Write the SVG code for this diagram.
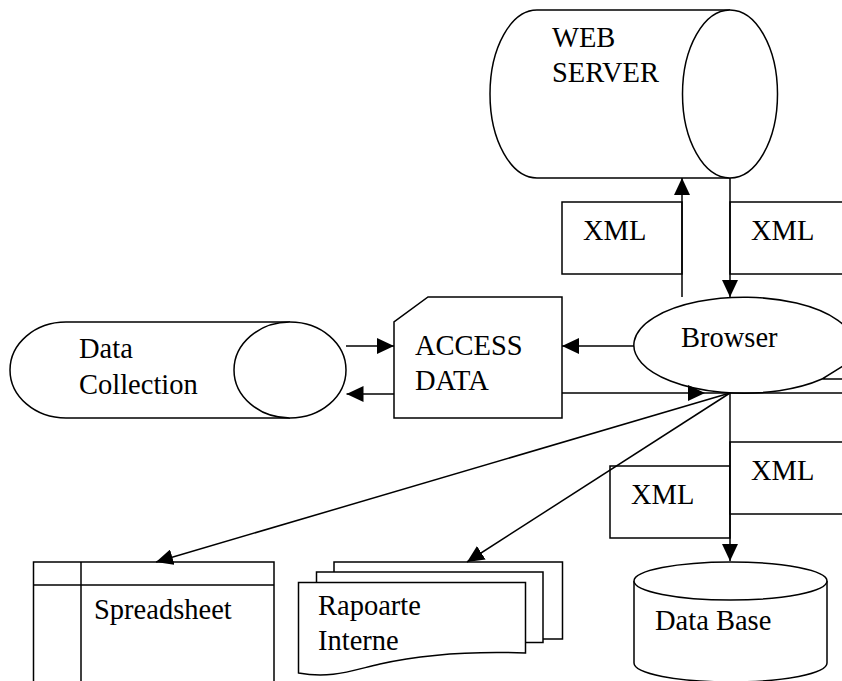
<svg xmlns="http://www.w3.org/2000/svg" width="842" height="681" viewBox="0 0 842 681">
<style>
.s{fill:#fff;stroke:#000;stroke-width:1.5}
.n{fill:none;stroke:#000;stroke-width:1.5}
.t{font-size:28.5px;fill:#000}
.c{fill:none;stroke:#000;stroke-width:1.5;marker-end:url(#ah)}
</style>
<defs>
<marker id="ah" markerUnits="userSpaceOnUse" markerWidth="17" markerHeight="16" refX="17" refY="8" orient="auto">
<path d="M0,0 L17,8 L0,16 Z" fill="#000"/>
</marker>
</defs>
<rect width="842" height="681" fill="#fff"/>
<g font-family="'Liberation Serif', 'Times New Roman', Tinos, 'DejaVu Serif', serif">
<g id="web-server">
<path class="s" d="M730,10 L537,10 A47,84 0 0 0 537,178 L730,178"/>
<ellipse class="s" cx="730" cy="94" rx="47.5" ry="84"/>
<text class="t" x="552" y="47">WEB</text>
<text class="t" x="552" y="82">SERVER</text>
</g>

<g id="xml-1">
<rect class="s" x="562" y="202" width="120" height="72"/>
<text class="t" x="583" y="240">XML</text>
</g>
<g id="xml-2">
<rect class="s" x="730" y="202" width="130" height="72"/>
<text class="t" x="751" y="240">XML</text>
</g>

<g id="data-collection">
<path class="s" d="M290,322 L66,322 A56,48 0 0 0 66,418 L290,418"/>
<ellipse class="s" cx="290" cy="370" rx="56" ry="48"/>
<text class="t" x="79" y="358">Data</text>
<text class="t" x="79" y="394">Collection</text>
</g>

<g id="access-data">
<path class="s" d="M428,297 L562,297 L562,418 L394,418 L394,322 Z"/>
<text class="t" x="415" y="355">ACCESS</text>
<text class="t" x="415" y="390">DATA</text>
</g>

<g id="browser">
<path class="s" d="M822,379 A110,48 0 1 1 843,366 L822,379 L850,379"/>
<line class="n" x1="705" y1="393" x2="842" y2="393"/>
<text class="t" x="681" y="347">Browser</text>
</g>

<g id="xml-3">
<rect class="s" x="610" y="466" width="120" height="72"/>
<text class="t" x="631" y="504">XML</text>
</g>
<g id="xml-4">
<rect class="s" x="730" y="442" width="130" height="72"/>
<text class="t" x="751" y="480">XML</text>
</g>

<g id="spreadsheet">
<rect class="s" x="33.5" y="562" width="240.5" height="130"/>
<line class="n" x1="33.5" y1="585" x2="274" y2="585"/>
<line class="n" x1="81" y1="562" x2="81" y2="690"/>
<text class="t" x="94" y="619">Spreadsheet</text>
</g>

<g id="rapoarte-interne">
<path class="s" d="M334,572 L334,562 L562.5,562 L562.5,639 L543,639"/>
<path class="s" d="M316.5,582 L316.5,572 L543,572 L543,642.5 L525.5,642.5"/>
<path class="s" d="M298.5,582.5 L525.5,582.5 L525.5,653 C470,651 420,655 380,664 C350,671 330,679 298.5,673 Z"/>
<text class="t" x="318" y="615">Rapoarte</text>
<text class="t" x="318" y="650">Interne</text>
</g>

<g id="data-base">
<path class="s" d="M634,581 L634,663 A96.5,19 0 0 0 827,663 L827,581"/>
<ellipse class="s" cx="730.5" cy="581" rx="96.5" ry="19"/>
<text class="t" x="655" y="630">Data Base</text>
</g>
</g>
<g id="connectors">
<line class="c" x1="682" y1="297" x2="682" y2="178"/>
<line class="c" x1="730" y1="178" x2="730" y2="297"/>
<line class="c" x1="634" y1="346" x2="562" y2="346"/>
<line class="c" x1="346" y1="346" x2="394" y2="346"/>
<line class="c" x1="394" y1="394" x2="346.5" y2="394"/>
<line class="c" x1="562" y1="393" x2="705" y2="393"/>
<line class="c" x1="730" y1="393" x2="156" y2="562"/>
<line class="c" x1="730" y1="393" x2="467" y2="562"/>
<line class="c" x1="730" y1="393" x2="730" y2="561"/>
</g>
</svg>
